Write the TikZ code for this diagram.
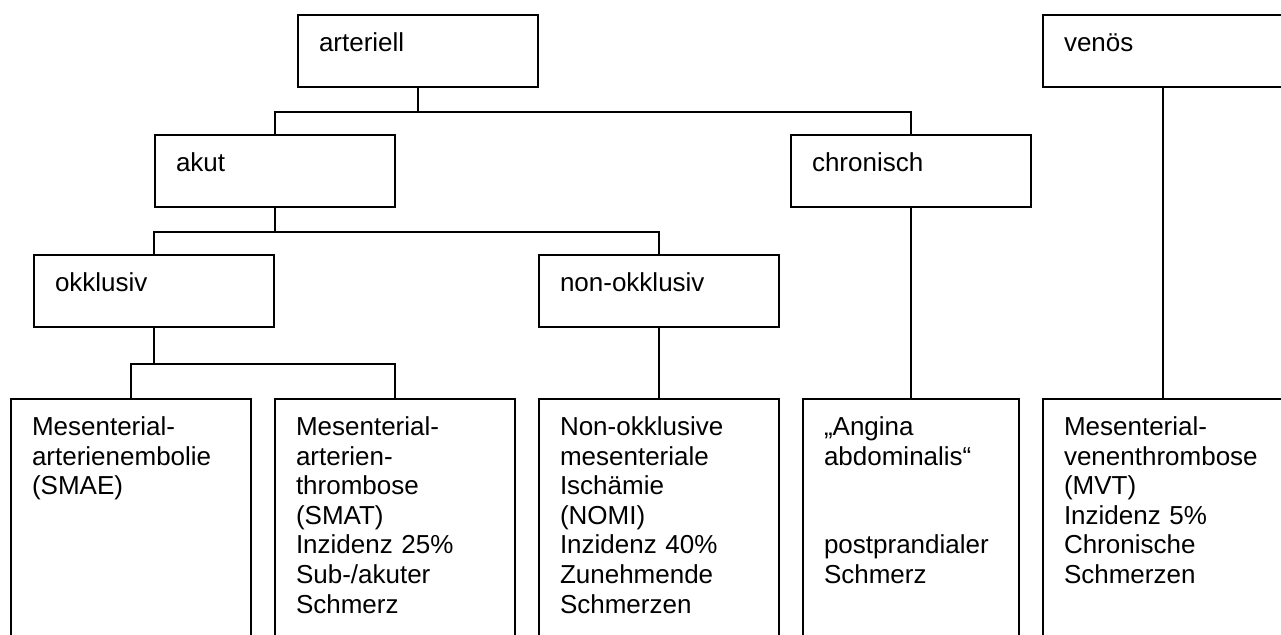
\documentclass[tikz,border=0pt]{standalone}
\usepackage{fontspec}
\setmainfont{Liberation Sans}
\usetikzlibrary{positioning}
\tikzset{
  box/.style={rectangle, draw=black, line width=1.5pt, anchor=north west,
    align=left, inner xsep=15.75pt, inner ysep=0pt, text width=148.5pt,
    text height=27.4pt, text depth=26.6pt,
    font=\fontsize{19.5}{22.2}\selectfont},
  tallbox/.style={box, text depth=175pt},
  narrowbox/.style={tallbox, text width=130.5pt},
  line/.style={line width=1.5pt, color=black}
}
\begin{document}
\begin{tikzpicture}[x=0.75pt, y=-0.75pt]
  \useasboundingbox (0,0) rectangle (1281,635);
  \clip (0,0) rectangle (1281,635);

  % Top level
  \node[box] (art) at (297,14) {arteriell};
  \node[box] (ven) at (1042,14) {venös};

  % Second level
  \node[box] (akut) at (154,134) {akut};
  \node[box] (chron) at (790,134) {chronisch};
  \draw[line] (art.south) -- ++(0,24) -| (akut.north);
  \draw[line] (art.south) -- ++(0,24) -| (chron.north);

  % Third level
  \node[box] (okkl) at (33,254) {okklusiv};
  \node[box] (nonokkl) at (538,254) {non-okklusiv};
  \draw[line] (akut.south) -- ++(0,24) -| (okkl.north);
  \draw[line] (akut.south) -- ++(0,24) -| (nonokkl.north);

  % Bottom row
  \node[tallbox] (smae) at (10,398) {Mesenterial-\\arterienembolie\\(SMAE)};
  \node[tallbox] (smat) at (274,398) {Mesenterial-\\arterien-\\thrombose\\(SMAT)\\Inzidenz 25\%\\Sub-/akuter\\Schmerz};
  \node[tallbox] (nomi) at (538,398) {Non-okklusive\\mesenteriale\\Ischämie\\(NOMI)\\Inzidenz 40\%\\Zunehmende\\Schmerzen};
  \node[narrowbox] (angina) at (802,398) {„Angina\\abdominalis“\\ \mbox{}\\ \mbox{}\\postprandialer\\Schmerz};
  \node[tallbox] (mvt) at (1042,398) {Mesenterial-\\venenthrombose\\(MVT)\\Inzidenz 5\%\\Chronische\\Schmerzen};
  \draw[line] (okkl.south) -- ++(0,36) -| (smae.north);
  \draw[line] (okkl.south) -- ++(0,36) -| (smat.north);
  \draw[line] (nonokkl.south) -- (nomi.north);
  \draw[line] (chron.south) -- (angina.north);
  \draw[line] (ven.south) -- (mvt.north);
\end{tikzpicture}
\end{document}
